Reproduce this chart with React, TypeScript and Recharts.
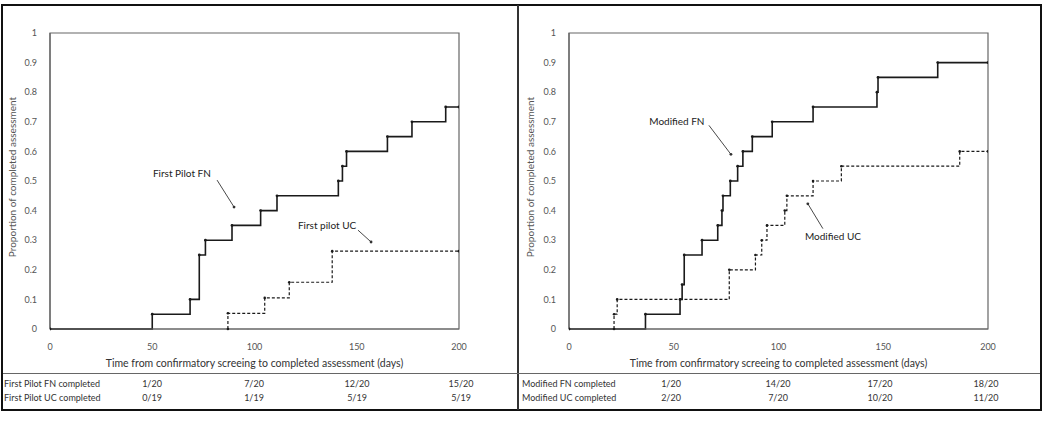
import React from 'react';
import {
  LineChart, Line, XAxis, YAxis, ReferenceArea, ReferenceLine, ReferenceDot, Label,
} from 'recharts';

// day on x, cumulative proportion on y (step after)
const firstFnDays = [0, 50, 68.5, 73, 76, 89, 103, 111, 141, 143, 145, 165, 177, 193.5, 200];
const firstFnProp = [0, 0.05, 0.1, 0.25, 0.3, 0.35, 0.4, 0.45, 0.5, 0.55, 0.6, 0.65, 0.7, 0.75, 0.75];
const firstUcDays = [87, 87, 105, 117, 138, 200];
const firstUcProp = [0, 0.053, 0.105, 0.158, 0.263, 0.263];

const modFnDays = [0, 36.5, 53, 54, 55, 63.5, 71, 73, 73.5, 77, 80.5, 83, 87.5, 97, 116.5, 147, 147.5, 176, 200];
const modFnProp = [0, 0.05, 0.1, 0.15, 0.25, 0.3, 0.35, 0.4, 0.45, 0.5, 0.55, 0.6, 0.65, 0.7, 0.75, 0.8, 0.85, 0.9, 0.9];
const modUcDays = [21.5, 21.5, 23, 76.5, 89, 92, 94.5, 103, 104, 116.5, 130, 186.5, 200];
const modUcProp = [0, 0.05, 0.1, 0.2, 0.25, 0.3, 0.35, 0.4, 0.45, 0.5, 0.55, 0.6, 0.6];

const xTicks = [0, 50, 100, 150, 200];
const yTicks = [0, 0.1, 0.2, 0.3, 0.4, 0.5, 0.6, 0.7, 0.8, 0.9, 1];

const firstTableLabels = ['First Pilot FN completed', 'First Pilot UC completed'];
const firstFnCompleted = ['1/20', '7/20', '12/20', '15/20'];
const firstUcCompleted = ['0/19', '1/19', '5/19', '5/19'];
const modTableLabels = ['Modified FN completed', 'Modified UC completed'];
const modFnCompleted = ['1/20', '14/20', '17/20', '18/20'];
const modUcCompleted = ['2/20', '7/20', '10/20', '11/20'];

const xTitle = 'Time from confirmatory screeing to completed assessment (days)';
const yTitle = 'Proportion of completed assessment';

const FONT = "Lato, 'Open Sans', sans-serif";
const AXIS = '#666';
const INK = '#1a1a1a';

const toPoints = (days: number[], props: number[]) => days.map((d, i) => ({ day: d, p: props[i] }));

interface Note {
  text: string;
  at: [number, number];
  from: [number, number];
  to: [number, number];
}

interface PanelProps {
  left: number;
  width: number;
  yAxisWidth: number;
  marginRight: number;
  fn: { day: number; p: number }[];
  uc: { day: number; p: number }[];
  notes: Note[];
}

function Panel({ left, width, yAxisWidth, marginRight, fn, uc, notes }: PanelProps) {
  return (
    <div style={{ position: 'absolute', left, top: 0 }}>
      <LineChart
        width={width}
        height={374}
        margin={{ top: 33, right: marginRight, bottom: 5, left: 0 }}
      >
        <XAxis
          type="number"
          dataKey="day"
          domain={[0, 200]}
          ticks={xTicks}
          allowDataOverflow
          tickLine={false}
          axisLine={{ stroke: AXIS, strokeWidth: 1.2 }}
          tick={{ fontSize: 9, fill: '#555', fontFamily: FONT }}
          tickMargin={9}
          height={40}
        >
          <Label
            value={xTitle}
            position="insideBottom"
            offset={2}
            style={{ fontSize: 10.5, fill: '#333', fontFamily: FONT }}
          />
        </XAxis>
        <YAxis
          type="number"
          domain={[0, 1]}
          ticks={yTicks}
          tickLine={false}
          axisLine={{ stroke: AXIS, strokeWidth: 1.2 }}
          tick={{ fontSize: 9, fill: '#555', fontFamily: FONT }}
          tickMargin={7}
          width={yAxisWidth}
        >
          <Label
            value={yTitle}
            angle={-90}
            position="center"
            dx={-13}
            dy={-4}
            style={{ fontSize: 10, fill: '#555', fontFamily: FONT, textAnchor: 'middle' }}
          />
        </YAxis>
        <ReferenceArea x1={0} x2={200} y1={0} y2={1} fill="none" stroke={AXIS} strokeWidth={1.2} />
        {notes.map((n) => (
          <ReferenceLine
            key={n.text + 'l'}
            segment={[{ x: n.from[0], y: n.from[1] }, { x: n.to[0], y: n.to[1] }]}
            stroke="#333"
            strokeWidth={0.9}
          />
        ))}
        {notes.map((n) => (
          <ReferenceDot key={n.text + 'h'} x={n.to[0]} y={n.to[1]} r={1.4} fill="#333" stroke="none" />
        ))}
        {notes.map((n) => (
          <ReferenceDot
            key={n.text}
            x={n.at[0]}
            y={n.at[1]}
            r={0.1}
            fill="none"
            stroke="none"
            label={{ value: n.text, position: 'center', style: { fontSize: 10, fill: '#222', fontFamily: FONT } }}
          />
        ))}
        <Line
          data={uc}
          dataKey="p"
          type="stepAfter"
          stroke={INK}
          strokeWidth={1.2}
          strokeDasharray="3 2"
          dot={{ r: 1.3, fill: INK, stroke: 'none' }}
          isAnimationActive={false}
        />
        <Line
          data={fn}
          dataKey="p"
          type="stepAfter"
          stroke={INK}
          strokeWidth={1.6}
          dot={{ r: 1.4, fill: INK, stroke: 'none' }}
          isAnimationActive={false}
        />
      </LineChart>
    </div>
  );
}

const cell: React.CSSProperties = {
  position: 'absolute',
  fontSize: 9,
  fontFamily: FONT,
  color: '#333',
  whiteSpace: 'nowrap',
  lineHeight: '12px',
};

function Table({ labelX, colX, labels, rowA, rowB }: {
  labelX: number; colX: number[]; labels: string[]; rowA: string[]; rowB: string[];
}) {
  const rows = [rowA, rowB];
  const tops = [378, 392];
  return (
    <>
      {labels.map((l, r) => (
        <div key={l} style={{ ...cell, left: labelX, top: tops[r] }}>{l}</div>
      ))}
      {rows.map((row, r) =>
        row.map((v, c) => (
          <div
            key={`${r}-${c}`}
            style={{ ...cell, left: colX[c] - 20, width: 40, textAlign: 'center', top: tops[r] }}
          >
            {v}
          </div>
        )),
      )}
    </>
  );
}

export default function App() {
  const firstNotes: Note[] = [
    { text: 'First Pilot FN', at: [64.5, 0.527], from: [81.7, 0.503], to: [90, 0.412] },
    { text: 'First pilot UC', at: [135.5, 0.351], from: [150.6, 0.334], to: [157, 0.294] },
  ];
  const modNotes: Note[] = [
    { text: 'Modified FN', at: [51.5, 0.7], from: [66.8, 0.688], to: [77.3, 0.59] },
    { text: 'Modified UC', at: [126, 0.312], from: [121.2, 0.339], to: [114, 0.423] },
  ];

  return (
    <div
      style={{
        position: 'absolute', left: 0, top: 0, width: 1050, height: 422,
        background: '#fff', overflow: 'hidden',
      }}
    >
      <Panel
        left={0}
        width={518}
        yAxisWidth={50}
        marginRight={59}
        fn={toPoints(firstFnDays, firstFnProp)}
        uc={toPoints(firstUcDays, firstUcProp)}
        notes={firstNotes}
      />
      <Panel
        left={518}
        width={522}
        yAxisWidth={51}
        marginRight={52}
        fn={toPoints(modFnDays, modFnProp)}
        uc={toPoints(modUcDays, modUcProp)}
        notes={modNotes}
      />
      {/* frame, divider and table rule */}
      <div style={{ position: 'absolute', left: 1, top: 4, width: 1041, height: 407, border: '2px solid #111', boxSizing: 'border-box' }} />
      <div style={{ position: 'absolute', left: 517, top: 5, width: 2, height: 405, background: '#333' }} />
      <div style={{ position: 'absolute', left: 3, top: 373, width: 1037, height: 1, background: '#666' }} />
      <Table
        labelX={4}
        colX={[152, 254, 357, 461]}
        labels={firstTableLabels}
        rowA={firstFnCompleted}
        rowB={firstUcCompleted}
      />
      <Table
        labelX={522}
        colX={[671, 778, 880, 986]}
        labels={modTableLabels}
        rowA={modFnCompleted}
        rowB={modUcCompleted}
      />
    </div>
  );
}
